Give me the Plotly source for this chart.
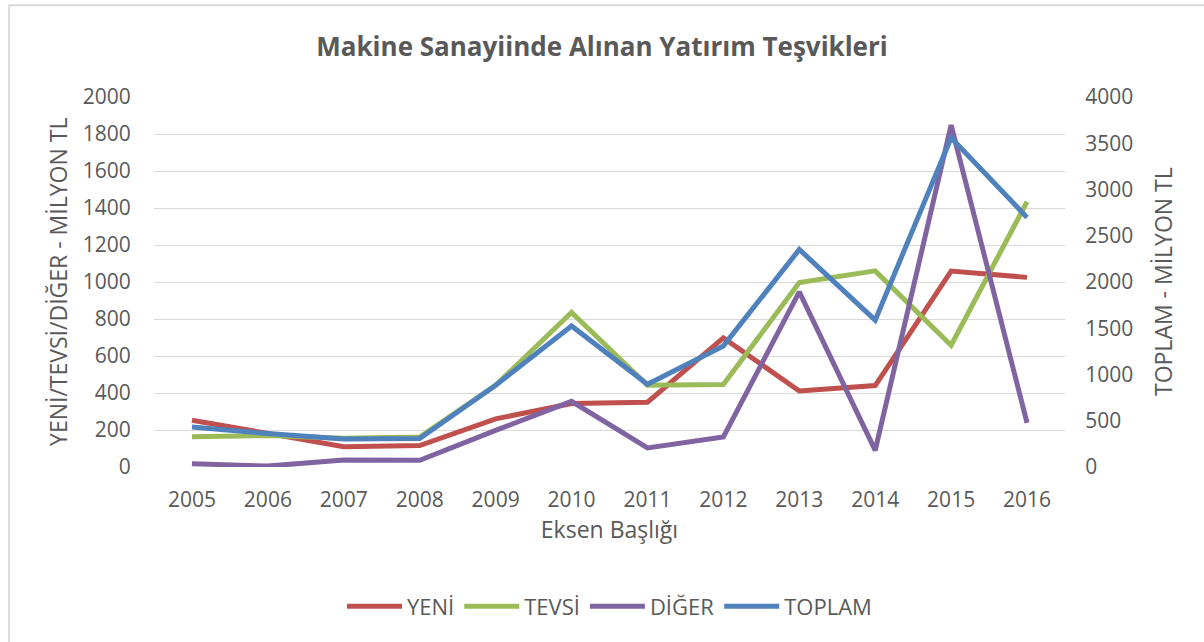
import plotly.graph_objects as go

# Données (milyon TL)
yillar = ["2005", "2006", "2007", "2008", "2009", "2010", "2011", "2012", "2013", "2014", "2015", "2016"]
yeni = [253, 181, 110, 116, 260, 343, 350, 698, 411, 440, 1059, 1025]
tevsi = [164, 170, 155, 162, 442, 835, 442, 446, 997, 1060, 658, 1434]
diger = [18, 5, 38, 36, 198, 355, 103, 162, 947, 90, 1848, 238]
toplam = [433, 361, 303, 307, 884, 1525, 895, 1309, 2352, 1587, 3560, 2698]

yazi = "#595959"
font_ailesi = "Open Sans"

fig = go.Figure()

fig.add_trace(go.Scatter(x=yillar, y=yeni, name="YENİ", mode="lines",
                         line=dict(color="#C0504D", width=5)))
fig.add_trace(go.Scatter(x=yillar, y=tevsi, name="TEVSİ", mode="lines",
                         line=dict(color="#9BBB59", width=5)))
fig.add_trace(go.Scatter(x=yillar, y=diger, name="DİĞER", mode="lines",
                         line=dict(color="#8064A2", width=5)))
fig.add_trace(go.Scatter(x=yillar, y=toplam, name="TOPLAM", mode="lines",
                         line=dict(color="#4F81BD", width=5), yaxis="y2"))

fig.update_layout(
    width=1204, height=642,
    margin=dict(l=154, r=139, t=97, b=175),
    plot_bgcolor="white", paper_bgcolor="white",
    font=dict(family=font_ailesi, size=21, color=yazi),
    title=dict(text="<b>Makine Sanayiinde Alınan Yatırım Teşvikleri</b>",
               x=0.5, xanchor="center", y=0.927, yanchor="middle",
               font=dict(size=26, color=yazi)),
    xaxis=dict(
        type="category", range=[-0.5, 11.5],
        showgrid=False, showline=False, zeroline=False,
        ticks="outside", ticklen=14, tickcolor="rgba(0,0,0,0)",
        title=dict(text="Eksen Başlığı", font=dict(size=23), standoff=9),
        automargin=False,
    ),
    yaxis=dict(
        range=[0, 2000], dtick=200,
        showgrid=True, gridcolor="#D9D9D9", gridwidth=1.3,
        zeroline=False, showline=False,
        ticks="outside", ticklen=18, tickcolor="rgba(0,0,0,0)",
        automargin=False,
    ),
    yaxis2=dict(
        range=[0, 4000], dtick=500,
        overlaying="y", side="right",
        showgrid=False, zeroline=False, showline=False,
        ticks="outside", ticklen=15, tickcolor="rgba(0,0,0,0)",
        automargin=False,
    ),
    legend=dict(orientation="h", x=0.5, xanchor="center", y=-0.377, yanchor="middle",
                font=dict(size=22), itemwidth=55, traceorder="normal"),
    showlegend=True,
)

# Titres des axes verticaux
fig.add_annotation(text="YENİ/TEVSİ/DİĞER - MİLYON TL", textangle=-90,
                   xref="paper", yref="paper", x=-0.1054, y=0.5,
                   xanchor="center", yanchor="middle", showarrow=False,
                   font=dict(size=23, color=yazi))
fig.add_annotation(text="TOPLAM - MİLYON TL", textangle=-90,
                   xref="paper", yref="paper", x=1.1076, y=0.5,
                   xanchor="center", yanchor="middle", showarrow=False,
                   font=dict(size=23, color=yazi))

# Cadre gris du graphique
fig.add_shape(type="rect", xref="paper", yref="paper",
              x0=-0.159, x1=1.2, y0=-0.6, y1=1.248,
              line=dict(color="#D9D9D9", width=2), fillcolor="rgba(0,0,0,0)", layer="below")

fig.write_html("out.html", config={"displayModeBar": False},
               post_script="document.body.style.margin='0';")
